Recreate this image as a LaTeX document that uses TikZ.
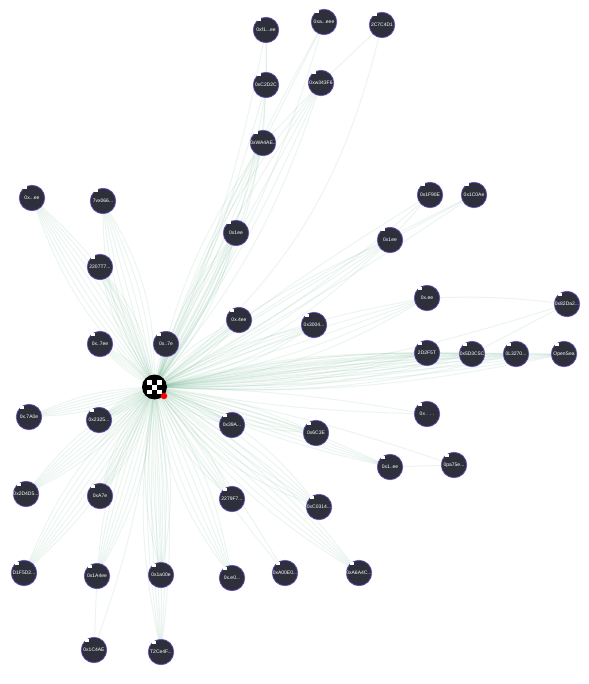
\documentclass[tikz,border=0pt]{standalone}
\usepackage{fontspec}
\setmainfont{Liberation Sans}
\usetikzlibrary{backgrounds}
\definecolor{nodefill}{HTML}{2D2F3A}
\definecolor{noderim}{HTML}{6C52BE}
\definecolor{edgegreen}{HTML}{5FAE85}
\tikzset{
  x=1pt,y=-1pt,
  acct/.style={circle,fill=nodefill,draw=noderim,line width=0.7pt,minimum size=25.5pt,inner sep=0pt,text=white,font=\fontsize{5}{5}\selectfont},
  hubnode/.style={circle,fill=black,minimum size=25pt,inner sep=0pt},
  flag/.style={circle,fill=red,minimum size=6.5pt,inner sep=0pt},
  link/.style={draw=edgegreen,line width=1pt,opacity=0.12},
}
\newcommand{\fan}[5][hub]{\foreach \b in {#3,#4,...,#5}{\draw[link] (#1) to[bend left=\b] (#2);}}
\newcommand{\acct}[4]{\node[acct] (#1) at (#2,#3) {#4};\fill[white] (#2-9.5,#3-11.5) rectangle (#2-5,#3-8.5);}
\begin{document}
\begin{tikzpicture}
\useasboundingbox (0,0) rectangle (588,684);
\acct{a1}{266}{30}{0xf1...ee}
\acct{a2}{324}{22}{0xa...eee}
\acct{a3}{382}{25}{2C7C4D1}
\acct{a4}{266}{85}{0xC2D2C}
\acct{a5}{321}{83}{0xw343F6}
\acct{a6}{263}{143}{0xWA4AE..}
\acct{a7}{236}{233}{0x1ee}
\acct{b1}{32}{198}{0x...ee}
\acct{b2}{103}{201}{7vx066...}
\acct{b3}{100}{267}{2207T7...}
\acct{b4}{100}{344}{0x..7ee}
\acct{b5}{166}{344}{0x..7e}
\acct{c1}{239}{320}{0x.4ee}
\acct{c2}{314}{325}{0x3004...}
\acct{c3}{390}{240}{0x1ee}
\acct{c4}{430}{195}{0x1F90E}
\acct{c5}{474}{195}{0x1C0Ae}
\acct{c6}{427}{298}{0x.ee}
\acct{c7}{567}{304}{0x82Da2...}
\acct{c8}{427}{353}{2D2F5T}
\acct{c9}{472}{354}{0x5D3C5C}
\acct{c10}{516}{354}{0L3270...}
\acct{c11}{564}{354}{OpenSea}
\acct{d1}{427}{414}{0x . . .}
\acct{d2}{454}{465}{0pa75e...}
\acct{d3}{390}{467}{0x1..ee}
\acct{d4}{316}{433}{0x6C3E}
\acct{d5}{232}{425}{0x39A...}
\acct{d6}{319}{507}{0xC0314...}
\acct{d7}{232}{499}{2279F7...}
\acct{e1}{359}{573}{0xA6A4C...}
\acct{e2}{285}{573}{0xA00E0...}
\acct{e3}{232}{578}{0x.e0...}
\acct{e4}{161}{575}{0x1a00e}
\acct{e5}{97}{576}{0x1A4ee}
\acct{e6}{100}{496}{0xA7e}
\acct{e7}{99}{420}{0x2325...}
\acct{f1}{29}{417}{0x.7A0e}
\acct{f2}{26}{494}{0x2D4D5...}
\acct{f3}{24}{573}{D1F5D2...}
\acct{f4}{94}{650}{0x1C4AE}
\acct{f5}{161}{652}{T2Ce4F...}
\node[hubnode] (hub) at (154.5,387) {};
\foreach \p/\q in {-7.3/-7.3,2.5/-7.3,-2.4/-2.4,-7.3/2.5,2.5/2.5}
  \fill[white] (154.5+\p,387+\q) rectangle ++(4.9,4.9);
\node[flag] (mark) at (164,396) {};
\begin{scope}[on background layer]
\fill[white] (0,0) rectangle (588,684);
\fan{b1}{-15}{-11}{15}
\fan{b2}{-15}{-10}{15}
\fan{b3}{-14}{-9}{14}
\fan{b4}{-10}{-5}{10}
\fan{b5}{-10}{-4}{10}
\draw[link] (hub) to[bend right=18] (a1);
\draw[link] (hub) to[bend right=6] (a1);
\draw[link] (hub) to[bend right=8] (a2);
\draw[link] (hub) to[bend left=4] (a2);
\draw[link] (hub) to[bend right=18] (a3);
\draw[link] (hub) to[bend right=12] (a4);
\draw[link] (hub) to[bend right=4] (a4);
\fan{a5}{-10}{-5}{10}
\fan{a6}{-10}{-6}{10}
\fan{a7}{-12}{-8}{12}
\fan{c1}{-12}{-6}{12}
\fan{c2}{-12}{-7}{12}
\fan{c3}{-12}{-7}{12}
\draw[link] (hub) to[bend left=3] (c4);
\draw[link] (hub) to[bend right=6] (c4);
\draw[link] (hub) to[bend left=5] (c5);
\draw[link] (hub) to[bend right=3] (c5);
\fan{c6}{-12}{-7}{12}
\draw[link] (hub) to[bend right=6] (c7);
\fan{c8}{-8}{-5}{8}
\fan{c9}{-8}{-5}{8}
\fan{c10}{-8}{-5}{8}
\fan{c11}{-7}{-4.5}{7}
\draw[link] (hub) to[bend left=4] (d1);
\draw[link] (hub) to[bend right=4] (d1);
\draw[link] (hub) to[bend left=4] (d2);
\fan{d3}{-6}{-3}{8}
\fan{d4}{-12}{-7}{12}
\fan{d5}{-12}{-7}{12}
\fan{d6}{-15}{-9}{15}
\fan{d7}{-14}{-8}{14}
\fan{e1}{-10}{-6}{10}
\draw[link] (hub) to[bend left=4] (e2);
\draw[link] (hub) to[bend right=4] (e2);
\fan{e3}{-14}{-9}{14}
\fan{e4}{-12}{-8}{12}
\fan{e5}{-12}{-8}{12}
\fan{e6}{-12}{-8}{12}
\fan{e7}{-12}{-8}{12}
\fan{f1}{-10}{-6}{10}
\fan{f2}{-12}{-8}{12}
\fan{f3}{-12}{-8}{12}
\draw[link] (hub) to[bend left=6] (f4);
\fan{f5}{-10}{-7}{10}
\draw[link] (a1) -- (a4);
\draw[link] (a2) -- (a6);
\draw[link] (a3) -- (a5);
\draw[link] (a5) -- (a6);
\draw[link] (a4) -- (a6);
\draw[link] (c3) -- (c4);
\draw[link] (c3) -- (c5);
\draw[link] (c6) to[bend left=4] (c7);
\draw[link] (c8) -- (c9);
\draw[link] (c9) -- (c7);
\draw[link] (c9) -- (c10);
\draw[link] (c10) -- (c11);
\draw[link] (d3) -- (d2);
\draw[link] (e5) -- (f4);
\end{scope}
\end{tikzpicture}
\end{document}
